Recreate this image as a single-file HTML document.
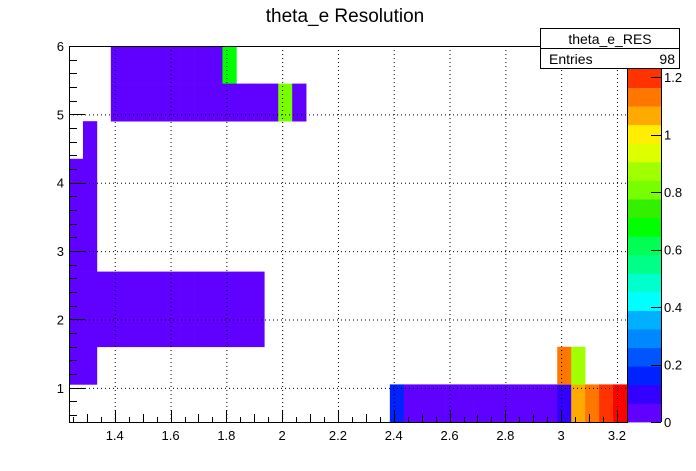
<!DOCTYPE html>
<html><head><meta charset="utf-8"><style>
body{margin:0;background:#fff}
svg{display:block;font-family:"Liberation Sans",sans-serif}
</style></head><body>
<svg id="c" width="696" height="471"></svg>
<script>
// data
const cellX=[0,0,0,0,0,0, 1,1,1,1,1,1,1, 2,3,4,5,6,7,8,9,10,11,12,13, 2,3,4,5,6,7,8,9,10,11,12,13,
 3,4,5,6,7,8,9,10,11, 3,4,5,6,7,8,9,10,11,12,13,14,15,16,
 23,24,25,26,27,28,29,30,31,32,33,34,35,36,37,38,39, 35,36];
const cellY=[1,2,3,4,5,6, 1,2,3,4,5,6,7, 2,2,2,2,2,2,2,2,2,2,2,2, 3,3,3,3,3,3,3,3,3,3,3,3,
 9,9,9,9,9,9,9,9,9, 8,8,8,8,8,8,8,8,8,8,8,8,8,8,
 0,0,0,0,0,0,0,0,0,0,0,0,0,0,0,0,0, 1,1];
const cellV=[0.03,0.03,0.03,0.03,0.03,0.03, 0.03,0.03,0.03,0.03,0.03,0.03,0.03,
 0.03,0.03,0.03,0.03,0.03,0.03,0.03,0.03,0.03,0.03,0.03,0.03, 0.03,0.03,0.03,0.03,0.03,0.03,0.03,0.03,0.03,0.03,0.03,0.03,
 0.03,0.03,0.03,0.03,0.03,0.03,0.03,0.03,0.7, 0.03,0.03,0.03,0.03,0.03,0.03,0.03,0.03,0.03,0.03,0.03,0.03,0.8,0.03,
 0.15,0.03,0.03,0.03,0.03,0.03,0.03,0.03,0.03,0.03,0.03,0.03,0.09,1.05,1.12,1.2,1.3, 1.12,0.87];
const xTicks=[1.4,1.6,1.8,2,2.2,2.4,2.6,2.8,3,3.2];
const xTickLabels=["1.4","1.6","1.8","2","2.2","2.4","2.6","2.8","3","3.2"];
const yTicks=[1,2,3,4,5,6];
const zTicks=[0,0.2,0.4,0.6,0.8,1,1.2];
const zTickLabels=["0","0.2","0.4","0.6","0.8","1","1.2"];
const palette=["#6000ff","#3300ff","#0022ff","#0055ff","#0088ff","#00b0ff","#00ffff","#00ffcc","#00ff88","#00ff55","#00ff00","#33f000","#77ff00","#a0ff00","#ddff00","#ffee00","#ffaa00","#ff7700","#ff3300"];

const X0=69,X1=627,Y0=422,Y1=46;
const xmin=1.236,xmax=3.236,ymin=0.5,ymax=6.0,binW=0.05,binH=0.55;
const zmax=1.228,PX0=628,PX1=661,PY0=422,PY1=69;
const sx=v=>X0+(v-xmin)/(xmax-xmin)*(X1-X0);
const sy=v=>Y0-(v-ymin)/(ymax-ymin)*(Y0-Y1);
const sz=v=>PY0-v/zmax*(PY0-PY1);
const NS="http://www.w3.org/2000/svg";
const svg=document.getElementById('c');
function mk(t,a,p){const e=document.createElementNS(NS,t);for(const k in a)e.setAttribute(k,a[k]);(p||svg).appendChild(e);return e;}
function col(v){if(v>zmax)return "#ff0000";let i=Math.floor(v/zmax*19);if(i>18)i=18;if(i<0)i=0;return palette[i];}

// cells
const gc=mk('g',{});


for(let i=0;i<cellX.length;i++){
  const xa=xmin+cellX[i]*binW, ya=ymin+cellY[i]*binH;
  const r=mk('rect',{x:sx(xa),y:sy(ya+binH),width:sx(xa+binW)-sx(xa)+0.3,height:sy(ya)-sy(ya+binH)+0.3,fill:col(cellV[i])},gc);
  
  
}
// grid
const gg=mk('g',{stroke:'#000','stroke-width':1,'stroke-dasharray':'1,3'});


xTicks.forEach(t=>mk('line',{x1:sx(t)+0.5,x2:sx(t)+0.5,y1:Y1,y2:Y0},gg));
yTicks.forEach(t=>mk('line',{x1:X0,x2:X1,y1:sy(t)+0.5,y2:sy(t)+0.5},gg));
// frame
const fr=mk('rect',{x:X0+0.5,y:Y1+0.5,width:X1-X0,height:Y0-Y1,fill:'none',stroke:'#000'});


// x axis ticks
const gx=mk('g',{stroke:'#000'});


for(let k=0;;k++){const v=1.25+k*0.05;if(v>xmax)break;
  const major=xTicks.some(t=>Math.abs(t-v)<1e-6);const mid=Math.abs(((v*10)%2)-1)<1e-6;
  const L=major?12:(mid?8:5);const x=Math.round(sx(v))+0.5;
  mk('line',{x1:x,x2:x,y1:Y0,y2:Y0-L},gx);}
xTicks.forEach((t,i)=>{const e=mk('text',{x:sx(t),y:440,'text-anchor':'middle','font-size':13},gx);e.textContent=xTickLabels[i];
  
  });
// y axis ticks
const gy=mk('g',{stroke:'#000'});


for(let k=0;;k++){const v=0.6+k*0.2;if(v>ymax+1e-6)break;
  const major=yTicks.some(t=>Math.abs(t-v)<1e-6);const y=Math.round(sy(v))+0.5;
  mk('line',{x1:X0,x2:X0+(major?16:8),y1:y,y2:y},gy);}
yTicks.forEach(t=>{const e=mk('text',{x:64,y:sy(t)+5,'text-anchor':'end','font-size':13},gy);e.textContent=String(t);
  
  });
gx.querySelectorAll('text').forEach(e=>e.setAttribute('stroke','none'));
gy.querySelectorAll('text').forEach(e=>e.setAttribute('stroke','none'));
// palette
const gp=mk('g',{});


palette.forEach((c,i)=>{const a=i*zmax/19,b=(i+1)*zmax/19;
  const r=mk('rect',{x:PX0,y:sz(b),width:PX1-PX0,height:sz(a)-sz(b)+0.4,fill:c},gp);
  
  });
mk('line',{x1:PX1+0.5,x2:PX1+0.5,y1:PY1,y2:PY0,stroke:'#000'},gp);
zTicks.forEach((t,i)=>{const y=Math.round(sz(t))+0.5;mk('line',{x1:PX1-10,x2:PX1,y1:y,y2:y,stroke:'#000'},gp);
  const e=mk('text',{x:664,y:sz(t)+5,'font-size':13},gp);e.textContent=zTickLabels[i];
  
  });
</script>
<svg style="position:absolute;left:0;top:0" width="696" height="471">
<text x="345" y="22" text-anchor="middle" font-size="19" font-family="Liberation Sans,sans-serif">theta_e Resolution</text>
<g>
<rect x="540.5" y="28.5" width="139" height="40" fill="#fff" stroke="#000"/>
<line x1="540" x2="680" y1="48.5" y2="48.5" stroke="#000"/>
<text x="610" y="44" text-anchor="middle" font-size="14" font-family="Liberation Sans,sans-serif">theta_e_RES</text>
<text x="549" y="64" font-size="14" font-family="Liberation Sans,sans-serif">Entries</text>
<text x="675" y="64" text-anchor="end" font-size="14" font-family="Liberation Sans,sans-serif">98</text>
</g>
</svg>
</body></html>
